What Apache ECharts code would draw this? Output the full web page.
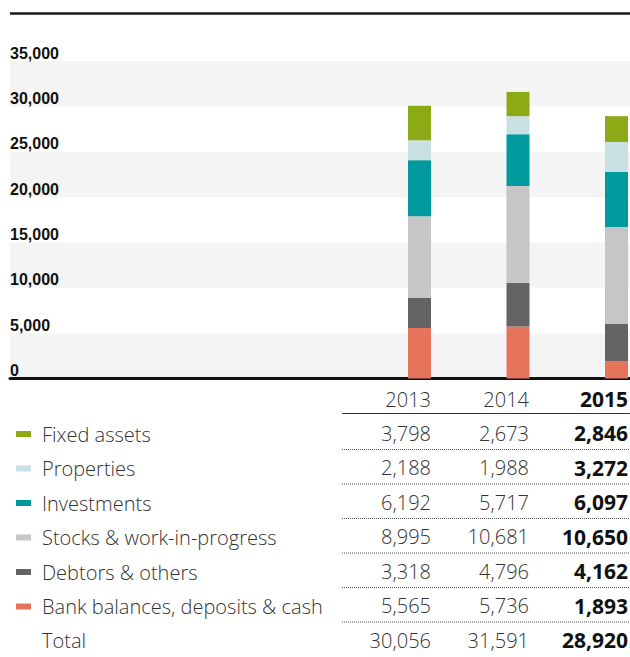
<!DOCTYPE html>
<html>
<head>
    <meta charset="utf-8">
    <script src="https://cdn.jsdelivr.net/npm/echarts@6/dist/echarts.min.js"></script>
    <style>
        html, body { margin: 0; padding: 0; background: #fff; }
    </style>
</head>
<body>
    <div id="main" style="width: 630px;height:657px"></div>

    <script type="text/javascript">
        // data (HK$ million)
        var years = ['2013', '2014', '2015'];
        var fixedAssets = [3798, 2673, 2846];
        var properties = [2188, 1988, 3272];
        var investments = [6192, 5717, 6097];
        var stocks = [8995, 10681, 10650];
        var debtors = [3318, 4796, 4162];
        var bank = [5565, 5736, 1893];
        var totals = [30056, 31591, 28920];

        // legend / table order, top to bottom
        var rows = [
            { name: 'Fixed assets', data: fixedAssets, color: '#8ca916' },
            { name: 'Properties', data: properties, color: '#c8e0e2' },
            { name: 'Investments', data: investments, color: '#009a9e' },
            { name: 'Stocks & work-in-progress', data: stocks, color: '#c6c6c6' },
            { name: 'Debtors & others', data: debtors, color: '#646464' },
            { name: 'Bank balances, deposits & cash', data: bank, color: '#e5745a' }
        ];

        var textFont = '"Open Sans", Roboto, sans-serif';
        var textSize = 20;
        var colX = [431, 529, 628];
        var rowY0 = 433, rowStep = 34.5;

        var myChart = echarts.init(document.getElementById('main'), null, { renderer: 'svg' });

        // stacked bars, bottom segment first (drawn on the second grid)
        var series = rows.slice().reverse().map(function (r) {
            return {
                name: r.name,
                type: 'bar',
                stack: 'total',
                barWidth: 23,
                xAxisIndex: 1,
                yAxisIndex: 1,
                itemStyle: { color: r.color },
                data: r.data
            };
        });

        function cellStyle(text, j) {
            return {
                text: text, align: 'right', verticalAlign: 'middle',
                fontSize: j === 2 ? 21 : textSize, fontFamily: textFont,
                fontWeight: j === 2 ? 'bold' : 300,
                fill: j === 2 ? '#111' : '#333'
            };
        }

        // table below the chart
        var graphic = [];
        graphic.push({
            type: 'line', shape: { x1: 10, y1: 13.5, x2: 630, y2: 13.5 },
            style: { stroke: '#1a1a1a', lineWidth: 2.5 }
        });
        years.forEach(function (y, j) {
            graphic.push({ type: 'text', x: colX[j], y: 399, style: cellStyle(y, j) });
        });
        graphic.push({
            type: 'line', shape: { x1: 342, y1: 413.5, x2: 630, y2: 413.5 },
            style: { stroke: '#333', lineWidth: 1.2 }
        });
        rows.forEach(function (r, i) {
            var yy = rowY0 + i * rowStep;
            r.data.forEach(function (v, j) {
                graphic.push({ type: 'text', x: colX[j], y: yy, style: cellStyle(v.toLocaleString('en-US'), j) });
            });
            graphic.push({
                type: 'line', shape: { x1: 342, y1: yy + 16.5, x2: 630, y2: yy + 16.5 },
                style: { stroke: '#555', lineWidth: 1, lineDash: [1, 1] }
            });
        });
        var totalY = rowY0 + rows.length * rowStep;
        graphic.push({
            type: 'text', x: 42, y: totalY,
            style: {
                text: 'Total', align: 'left', verticalAlign: 'middle',
                fontSize: textSize, fontFamily: textFont, fontWeight: 300, fill: '#333'
            }
        });
        totals.forEach(function (v, j) {
            graphic.push({ type: 'text', x: colX[j], y: totalY, style: cellStyle(v.toLocaleString('en-US'), j) });
        });

        var option = {
            animation: false,
            grid: [
                { left: 10, right: 0, top: 61, bottom: 278.5 },
                { left: 419.5, right: 13.5, top: 61, bottom: 278.5 }
            ],
            legend: {
                orient: 'vertical',
                left: 11,
                top: 419,
                itemWidth: 15,
                itemHeight: 6,
                itemGap: 14.5,
                icon: 'rect',
                selectedMode: false,
                data: rows.map(function (r) { return r.name; }),
                textStyle: {
                    fontSize: textSize, lineHeight: 20, fontFamily: textFont, fontWeight: 300,
                    color: '#333', padding: [0, 0, 0, 6]
                }
            },
            xAxis: [{
                type: 'value',
                gridIndex: 0,
                min: 0,
                max: 1,
                axisLine: { show: true, onZero: false, lineStyle: { color: '#111', width: 3 } },
                axisTick: { show: false },
                axisLabel: { show: false },
                splitLine: { show: false }
            }, {
                type: 'category',
                gridIndex: 1,
                data: years,
                boundaryGap: false,
                show: false
            }],
            yAxis: [{
                type: 'value',
                gridIndex: 0,
                min: 0,
                max: 35000,
                interval: 5000,
                axisLine: { show: false },
                axisTick: { show: false },
                splitLine: { show: false },
                splitArea: { show: true, areaStyle: { color: ['#f4f4f4', '#ffffff'] } },
                axisLabel: {
                    inside: true,
                    margin: 0,
                    verticalAlign: 'bottom',
                    padding: [0, 0, 0, 0],
                    fontSize: 16,
                    fontWeight: 'bold',
                    fontFamily: '"Liberation Sans", Arial, sans-serif',
                    color: '#111',
                    formatter: function (v) { return v.toLocaleString('en-US'); }
                }
            }, {
                type: 'value',
                gridIndex: 1,
                min: 0,
                max: 35000,
                interval: 5000,
                show: false
            }],
            graphic: graphic,
            series: series
        };

        myChart.setOption(option);
    </script>
</body>
</html>
